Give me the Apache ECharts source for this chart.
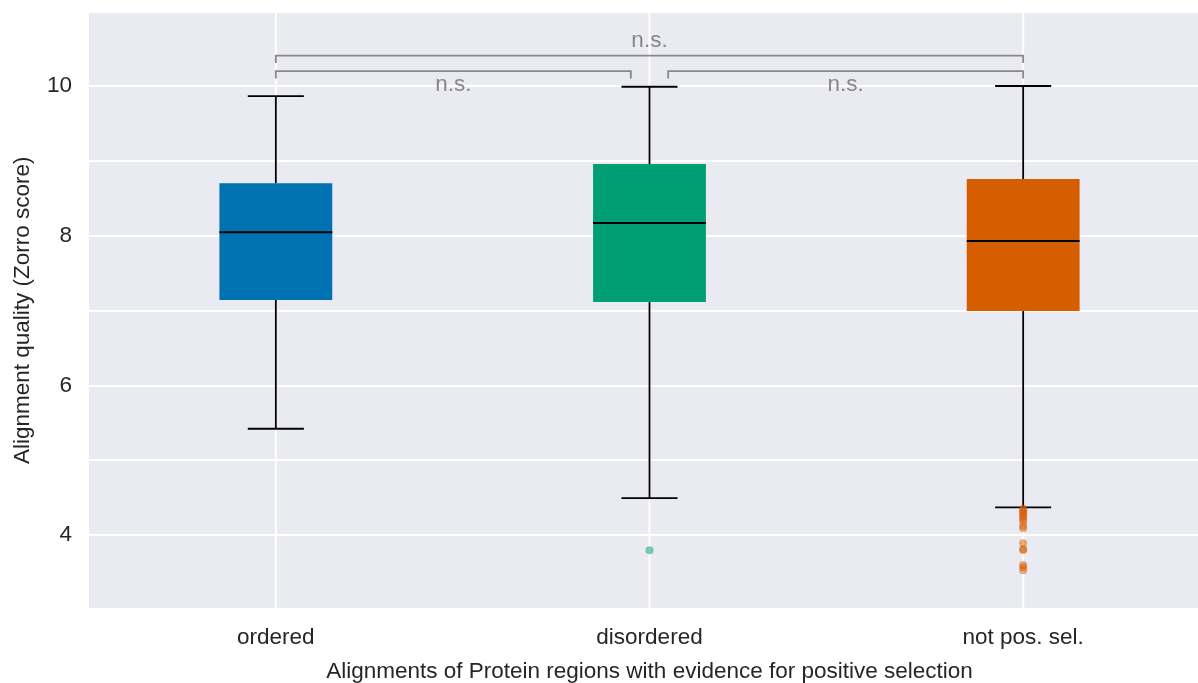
<!DOCTYPE html>
<html><head><meta charset="utf-8">
<script src="https://cdn.jsdelivr.net/npm/echarts@6/dist/echarts.min.js"></script>
<style>html,body{margin:0;padding:0;background:#fff}#c{width:1198px;height:683px}</style>
</head><body><div id="c"></div>
<script>
const categories = ['ordered', 'disordered', 'not pos. sel.'];
const boxColors = ['#0072B2', '#009E73', '#D55E00'];
// [lower whisker, Q1, median, Q3, upper whisker]
const statsOrdered = [5.42, 7.14, 8.045, 8.70, 9.866];
const statsDisordered = [4.494, 7.113, 8.169, 8.958, 9.99];
const statsNotPosSel = [4.37, 6.993, 7.929, 8.757, 10.0];
const outliersOrdered = [];
const outliersDisordered = [3.795];
const outliersNotPosSel = [4.35, 4.33, 4.31, 4.29, 4.26, 4.24, 4.21, 4.18, 4.12, 4.09, 3.89, 3.81, 3.80, 3.60, 3.57, 3.53];
const yTickLabels = [4, 6, 8, 10];
// bracket: [x from, x to, line y, tick end y, label x, label y, label]
const bracketTop = [0, 2, 10.405, 10.307, 1, 10.6, 'n.s.'];
const bracketLeft = [0, 0.95, 10.20, 10.10, 0.475, 10.01, 'n.s.'];
const bracketRight = [1.05, 2, 10.20, 10.10, 1.525, 10.01, 'n.s.'];

const FONT = "'Liberation Sans', Arial, sans-serif";
const FS = 22.5;
const TXT = '#262626';
const Y_MIN = 3.018, Y_MAX = 10.989;

const allStats = [statsOrdered, statsDisordered, statsNotPosSel];
const boxData = allStats.map((s, i) => [i].concat(s));
const outlierSets = [outliersOrdered, outliersDisordered, outliersNotPosSel];
const brackets = [bracketTop, bracketLeft, bracketRight];

const chart = echarts.init(document.getElementById('c'), null, {renderer: 'canvas'});

const series = [];
// vertical grid lines at category centres
series.push({
  type: 'custom', xAxisIndex: 1, yAxisIndex: 0, z: 1, silent: true,
  data: categories.map((c, i) => [i]),
  renderItem(params, api) {
    const cs = params.coordSys;
    const x = api.coord([api.value(0), Y_MIN])[0];
    return {type: 'line', shape: {x1: x, y1: cs.y, x2: x, y2: cs.y + cs.height},
      style: {stroke: '#ffffff', lineWidth: 2}};
  }
});
// boxes
series.push({
  type: 'custom', xAxisIndex: 1, yAxisIndex: 0, z: 3, silent: true,
  data: boxData,
  renderItem(params, api) {
    const i = api.value(0);
    const lo = api.coord([i, api.value(1)]);
    const q1 = api.coord([i, api.value(2)]);
    const md = api.coord([i, api.value(3)]);
    const q3 = api.coord([i, api.value(4)]);
    const hi = api.coord([i, api.value(5)]);
    const hb = api.size([0.302, 0])[0] / 2;
    const hc = api.size([0.15, 0])[0] / 2;
    const x = lo[0];
    const ls = {stroke: '#000', lineWidth: 1.8};
    return {type: 'group', children: [
      {type: 'line', shape: {x1: x, y1: q1[1], x2: x, y2: lo[1]}, style: ls},
      {type: 'line', shape: {x1: x, y1: q3[1], x2: x, y2: hi[1]}, style: ls},
      {type: 'line', shape: {x1: x - hc, y1: lo[1], x2: x + hc, y2: lo[1]}, style: ls},
      {type: 'line', shape: {x1: x - hc, y1: hi[1], x2: x + hc, y2: hi[1]}, style: ls},
      {type: 'rect', shape: {x: x - hb, y: q3[1], width: 2 * hb, height: q1[1] - q3[1]},
        style: {fill: boxColors[i]}},
      {type: 'line', shape: {x1: x - hb, y1: md[1], x2: x + hb, y2: md[1]}, style: {stroke: '#000', lineWidth: 2}}
    ]};
  }
});
// outliers
outlierSets.forEach((set, i) => {
  series.push({
    type: 'scatter', xAxisIndex: 1, yAxisIndex: 0, z: 4, silent: true,
    symbol: 'circle', symbolSize: 8,
    itemStyle: {color: boxColors[i], opacity: 0.5},
    data: set.map(v => [i, v])
  });
});
// significance brackets
series.push({
  type: 'custom', xAxisIndex: 1, yAxisIndex: 0, z: 5, silent: true,
  data: brackets,
  renderItem(params, api) {
    const a = api.coord([api.value(0), api.value(2)]);
    const b = api.coord([api.value(1), api.value(2)]);
    const ta = api.coord([api.value(0), api.value(3)]);
    const lp = api.coord([api.value(4), api.value(5)]);
    const st = {stroke: '#888888', lineWidth: 1.8, fill: null};
    return {type: 'group', children: [
      {type: 'polyline', shape: {points: [[a[0], ta[1]], [a[0], a[1]], [b[0], b[1]], [b[0], ta[1]]]}, style: st},
      {type: 'text', x: lp[0], y: lp[1], style: {text: brackets[params.dataIndex][6],
        fill: '#888888', font: FS + 'px ' + FONT, align: 'center', verticalAlign: 'middle'}}
    ]};
  }
});

chart.setOption({
  animation: false,
  backgroundColor: '#ffffff',
  grid: {left: 89, top: 12, width: 1121, height: 596.5, show: true,
    backgroundColor: '#EAEAF2', borderWidth: 0, containLabel: false, outerBoundsMode: 'none'},
  xAxis: [{
    type: 'category', data: categories, boundaryGap: true,
    axisLine: {show: false}, axisTick: {show: false}, splitLine: {show: false},
    axisLabel: {fontSize: FS, color: TXT, fontFamily: FONT, margin: 18},
    name: 'Alignments of Protein regions with evidence for positive selection',
    nameLocation: 'middle', nameGap: 51.5,
    nameTextStyle: {fontSize: FS, color: TXT, fontFamily: FONT}
  }, {
    type: 'value', min: -0.5, max: 2.5, show: false
  }],
  yAxis: [{
    type: 'value', min: Y_MIN, max: Y_MAX, minInterval: 1, maxInterval: 1,
    axisLine: {show: false}, axisTick: {show: false},
    splitLine: {show: true, lineStyle: {color: '#ffffff', width: 2}},
    axisLabel: {fontSize: FS, color: TXT, fontFamily: FONT, margin: 17,
      showMinLabel: false, showMaxLabel: false,
      formatter: v => (yTickLabels.indexOf(Math.round(v * 1000) / 1000) >= 0 ? String(v) : '')},
    name: 'Alignment quality (Zorro score)', nameLocation: 'middle', nameGap: 55,
    nameTextStyle: {fontSize: FS, color: TXT, fontFamily: FONT}
  }],
  series: series
});
</script></body></html>
